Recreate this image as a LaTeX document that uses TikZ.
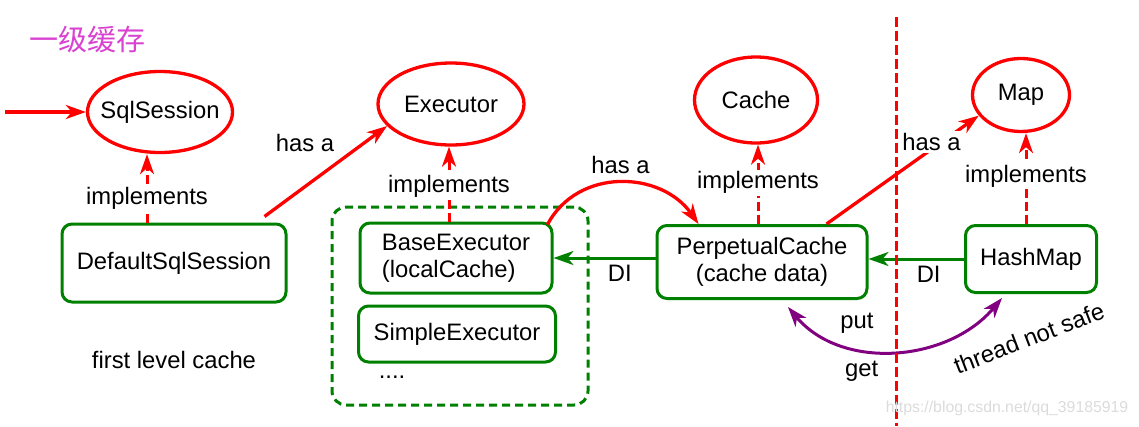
\documentclass[tikz,border=0pt]{standalone}
\usepackage{fontspec}
\setmainfont{Liberation Sans}
\newfontfamily\cjkfont{Noto Sans CJK SC}
\usepackage{xcolor}
\usetikzlibrary{shapes.geometric, arrows.meta, positioning}

\definecolor{boxgreen}{RGB}{0,128,0}
\definecolor{titlepink}{RGB}{217,65,209}
\definecolor{getput}{RGB}{128,0,128}

\tikzset{
    iface/.style={ellipse, draw=red, line width=3.3pt, inner sep=0pt},
    impl/.style={draw=boxgreen, rounded corners=10pt, line width=3pt, inner sep=0pt},
    tip/.style={-{Stealth[length=20pt, width=14pt, inset=6pt]}},
    implarrow/.style={tip, draw=red, line width=3pt, dash pattern=on 9pt off 4pt},
    hasa/.style={tip, draw=red, line width=3.3pt},
    di/.style={tip, draw=boxgreen, line width=3pt},
    lbl/.style={fill=white, inner sep=2pt},
}

\begin{document}
\begin{tikzpicture}[x=1pt, y=-1pt, font=\fontsize{23.8}{27}\selectfont]
    \useasboundingbox (0,0) rectangle (1139,426);

    % Nodes
    \node[text=titlepink, font=\cjkfont\fontsize{29}{32}\selectfont] (title) at (87,40) {一级缓存};

    \node[iface, minimum width=145pt, minimum height=81pt] (SqlSession) at (160,112) {\makebox[0pt]{SqlSession}};
    \node[iface, minimum width=146pt, minimum height=82pt] (Executor) at (451,104) {\makebox[0pt]{Executor}};
    \node[iface, minimum width=123pt, minimum height=86pt] (Cache) at (756,100) {\makebox[0pt]{Cache}};
    \node[iface, minimum width=97pt, minimum height=73pt] (Map) at (1021,95) {\makebox[0pt]{Map}};

    \node[draw=boxgreen, rounded corners=14pt, line width=3pt, dash pattern=on 8pt off 5pt,
          minimum width=256pt, minimum height=198pt] (executors) at (460,306) {};
    \node[impl, minimum width=224pt, minimum height=78pt] (DefaultSqlSession) at (174,263) {DefaultSqlSession};
    \node[impl, minimum width=192pt, minimum height=70pt, align=left] (BaseExecutor) at (456,258) {BaseExecutor\\(localCache)};
    \node[impl, minimum width=197pt, minimum height=56pt] (SimpleExecutor) at (457,334) {SimpleExecutor};
    \node (more) at (392,377) {....};
    \node[impl, minimum width=210pt, minimum height=73pt, align=center] (PerpetualCache) at (762,262) {PerpetualCache\\(cache data)};
    \node[impl, minimum width=131pt, minimum height=67pt] (HashMap) at (1031,259) {HashMap};

    \node (firstlevel) at (174,360) {first level cache};
    \node[rotate=21] (unsafe) at (1029,338) {thread not safe};

    \coordinate (entry) at (5,112);
    \coordinate (divtop) at (896,17);
    \coordinate (divbot) at (896,426);

    % Paths
    \draw[hasa] (entry) -- (SqlSession.west);

    \draw[implarrow] ([xshift=-27pt]DefaultSqlSession.north) -- ([xshift=-13pt]SqlSession.south) node[lbl, pos=0.36] {implements};
    \draw[implarrow] ([xshift=-7pt]BaseExecutor.north) -- ([xshift=-2pt]Executor.south) node[lbl, pos=0.47] {implements};
    \draw[implarrow] ([xshift=-4pt]PerpetualCache.north) -- ([xshift=2pt]Cache.south) node[lbl, pos=0.52] {implements};
    \draw[implarrow] ([xshift=-5pt]HashMap.north) -- ([xshift=5pt]Map.south) node[lbl, pos=0.53] {implements};

    \draw[hasa] ([xshift=-23pt, yshift=6pt]DefaultSqlSession.north east) -- (Executor.199) node[pos=0.33, above=30pt] {has a};
    \draw[hasa] ([xshift=-6pt, yshift=-3pt]BaseExecutor.north east) to[out=62, in=125, looseness=1.1] node[above=4pt] {has a} ([xshift=43pt]PerpetualCache.north west);
    \draw[hasa] ([xshift=-42pt]PerpetualCache.north east) -- (Map.206) node[lbl, pos=0.69, yshift=7pt] {has a};

    \draw[di] (BaseExecutor.east -| PerpetualCache.west) -- (BaseExecutor.east) node[pos=0.35, below=2pt] {DI};
    \draw[di] (HashMap.west) -- (HashMap.west -| PerpetualCache.east) node[pos=0.37, below=2pt] {DI};

    \draw[{Stealth[length=20pt, width=14pt, inset=6pt]}-{Stealth[length=20pt, width=14pt, inset=6pt]}, draw=getput, line width=3pt]
        ([xshift=26pt, yshift=-7pt]PerpetualCache.south) to[out=-50, in=-130]
        node[pos=0.34, above=10pt] {put}
        node[pos=0.36, below=8pt] {get}
        ([xshift=-29pt, yshift=-4pt]HashMap.south);

    \draw[red, line width=3pt, dash pattern=on 10pt off 4pt] (divtop) -- (divbot);

    \node[text=black!14, font=\fontsize{15.8}{18}\selectfont] (watermark) at (1007,408) {https://blog.csdn.net/qq\_39185919};
\end{tikzpicture}
\end{document}
